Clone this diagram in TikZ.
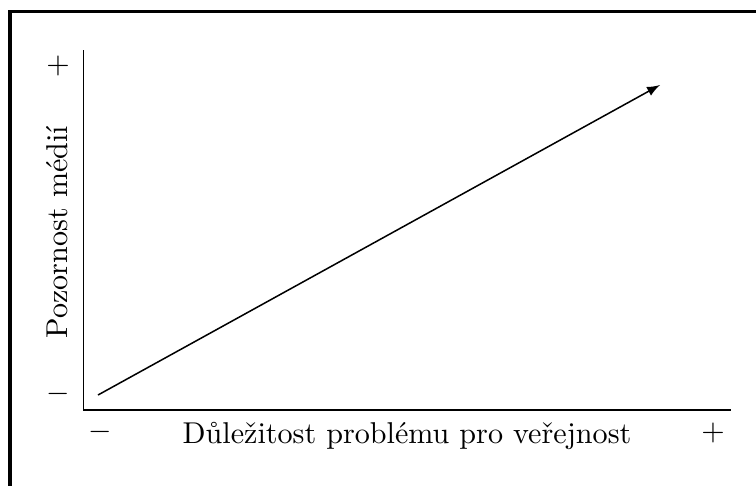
\documentclass[tikz,border=0pt]{standalone}
\usepackage{amsmath}
\usetikzlibrary{positioning}
\usetikzlibrary{arrows}

\begin{document}
\begin{tikzpicture}[x=0.332pt, y=-0.332pt,
    axis/.style={black, line width=0.4pt},
    trend/.style={black, line width=0.5pt, -latex},
    frame/.style={black, line width=1pt},
    sign/.style={inner sep=0pt}
]
				\useasboundingbox (0,0) rectangle (756,485);
				\draw[frame] (10,520) -- (10,11.5) -- (790,11.5);

				\coordinate (O) at (83.5,410);
				\coordinate (ytop) at (83.5,50);
				\coordinate (xend) at (731,410);
				\coordinate (start) at (98,395);
				\coordinate (end) at (660,85);

				\node[sign] (yplus) at (58,66) {$+$};
				\node[sign] (yminus) at (58,394) {$-$};
				\node[sign] (xminus) at (100,432) {$-$};
				\node[sign] (xplus) at (713,433) {$+$};

				\node (xlabel) at (407,436) {Důležitost problému pro veřejnost};
				\node[rotate=90] (ylabel) at (57,232) {Pozornost médií};

				\draw[axis] (ytop) -- (O) -- (xend);
				\draw[trend] (start) -- (end);

			\end{tikzpicture}
\end{document}
